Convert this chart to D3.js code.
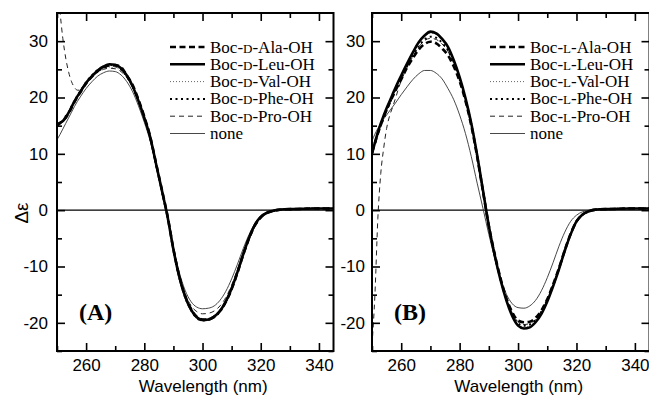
<!DOCTYPE html>
<html>
<head>
<meta charset="utf-8">
<script src="https://cdn.jsdelivr.net/npm/d3@7"></script>
<style>
  body { margin: 0; background: #fff; }
  svg { display: block; }
</style>
</head>
<body>
<div id="chart"></div>
<script>
var w = 649, h = 395;

// wavelength grid (nm)
var wl = [250,251,252,253,254,255,256,257,258,260,262,264,266,268,270,272,274,276,278,280,282,284,286,288,290,292,294,296,298,300,302,304,306,308,310,312,314,316,318,320,322,324,326,328,332,338,345];

// panel A (Boc-D-...)
var alaA = [15.0,15.4,16.0,16.4,17.2,18.2,19.2,20.1,20.9,22.5,23.7,24.7,25.3,25.7,25.7,25.4,23.9,22.2,19.6,16.6,13.1,8.4,3.7,-1.1,-6.9,-11.7,-15.2,-17.5,-18.9,-19.4,-19.4,-18.9,-17.9,-16.3,-14.0,-11.1,-7.9,-5.0,-2.7,-1.3,-0.5,-0.15,0.05,0.15,0.2,0.3,0.3];
var leuA = [15.2,15.5,15.8,16.5,17.3,18.3,19.3,20.2,21.0,22.6,23.8,24.8,25.5,25.9,25.8,25.2,23.9,22.0,19.4,16.4,13.0,8.3,3.6,-1.2,-7.0,-11.8,-15.3,-17.6,-19.0,-19.5,-19.4,-18.9,-17.9,-16.2,-13.9,-11.0,-7.8,-4.9,-2.6,-1.2,-0.5,-0.15,0.05,0.15,0.2,0.3,0.3];
var valA = [14.8,15.2,15.7,16.4,17.2,18.2,19.2,20.1,20.9,22.4,23.6,24.5,25.1,25.4,25.3,24.8,23.6,21.8,19.3,16.3,12.9,8.3,3.6,-1.2,-6.9,-11.6,-15.1,-17.4,-18.8,-19.3,-19.2,-18.7,-17.7,-16.1,-13.8,-10.9,-7.7,-4.9,-2.6,-1.2,-0.5,-0.15,0.05,0.15,0.2,0.3,0.3];
var pheA = [15.3,15.6,15.9,16.7,17.4,18.4,19.4,20.3,21.1,22.7,23.9,24.9,25.5,25.8,25.6,25.0,23.8,21.9,19.3,16.3,12.9,8.2,3.5,-1.3,-7.1,-11.9,-15.4,-17.7,-19.1,-19.6,-19.5,-19.0,-18.0,-16.3,-14.0,-11.1,-7.9,-5.0,-2.7,-1.3,-0.5,-0.15,0.05,0.15,0.2,0.3,0.3];
var proA = [42,35.5,30.5,27.0,24.5,22.8,21.8,21.3,21.3,22.4,23.6,24.5,25.0,25.2,25.1,24.6,23.5,21.7,19.2,16.2,12.8,8.2,3.5,-1.2,-6.8,-11.4,-14.8,-16.9,-18.0,-18.4,-18.3,-17.9,-17.0,-15.5,-13.3,-10.5,-7.4,-4.7,-2.5,-1.1,-0.45,-0.12,0.05,0.15,0.2,0.3,0.3];
var noneA = [12.5,13.4,14.4,15.4,16.4,17.4,18.4,19.3,20.1,21.6,22.8,23.8,24.4,24.7,24.6,24.0,22.8,21.0,18.5,15.6,12.3,8.0,3.5,-1.0,-6.5,-11.0,-14.2,-16.2,-17.2,-17.5,-17.4,-17.0,-16.0,-14.4,-12.2,-9.6,-6.8,-4.3,-2.3,-1.0,-0.4,-0.1,0.05,0.15,0.2,0.3,0.3];

// panel B (Boc-L-...)
var alaB = [10.2,11.9,13.6,15.1,16.5,17.8,19.0,20.1,21.2,23.2,25.3,27.0,28.5,29.5,29.9,29.6,28.7,27.5,25.5,22.9,19.4,15.0,9.5,3.3,-2.8,-7.8,-12.1,-15.6,-18.1,-19.6,-19.9,-19.8,-19.1,-17.8,-15.8,-13.2,-10.3,-7.1,-4.2,-2.0,-0.8,-0.25,0.05,0.15,0.2,0.3,0.3];
var leuB = [10.0,12.0,13.8,15.4,16.8,18.1,19.3,20.5,21.7,23.9,26.0,28.0,29.8,31.0,31.7,31.4,30.4,29.0,26.6,23.6,19.9,15.4,9.8,3.5,-2.8,-8.0,-12.4,-16.0,-18.8,-20.5,-21.0,-20.8,-19.9,-18.4,-16.2,-13.5,-10.5,-7.2,-4.3,-2.0,-0.8,-0.25,0.05,0.15,0.2,0.3,0.3];
var valB = [10.0,11.9,13.7,15.3,16.7,18.0,19.2,20.4,21.6,23.8,25.9,27.9,29.6,30.8,31.4,31.2,30.2,28.8,26.4,23.4,19.7,15.3,9.7,3.4,-2.8,-7.9,-12.3,-15.9,-18.6,-20.3,-20.7,-20.5,-19.7,-18.2,-16.0,-13.4,-10.4,-7.1,-4.3,-2.0,-0.8,-0.25,0.05,0.15,0.2,0.3,0.3];
var pheB = [10.1,11.8,13.5,15.0,16.4,17.7,18.9,20.1,21.3,23.5,25.6,27.5,29.1,30.3,30.8,30.6,29.7,28.4,26.1,23.2,19.6,15.2,9.6,3.4,-2.8,-7.9,-12.2,-15.8,-18.5,-20.1,-20.5,-20.3,-19.5,-18.0,-15.9,-13.3,-10.4,-7.1,-4.2,-2.0,-0.8,-0.25,0.05,0.15,0.2,0.3,0.3];
var proB = [-24,-15,-1.5,6.5,11.0,14.5,16.7,18.2,19.8,23.0,25.3,27.3,29.0,30.1,30.5,30.3,29.5,28.2,26.0,23.1,19.5,15.1,9.6,3.4,-2.7,-7.8,-12.1,-15.6,-18.2,-19.8,-20.3,-20.1,-19.4,-17.9,-15.8,-13.2,-10.3,-7.0,-4.2,-2.0,-0.8,-0.25,0.05,0.15,0.2,0.3,0.3];
var noneB = [12.3,13.5,14.5,15.4,16.2,16.9,17.6,18.3,19.0,20.5,21.9,23.2,24.2,24.8,24.8,24.3,23.3,21.6,19.6,16.9,13.6,9.5,4.8,0.3,-4.3,-8.5,-12.1,-14.9,-16.6,-17.3,-17.4,-17.0,-16.0,-14.3,-12.0,-9.3,-6.4,-3.9,-2.0,-0.9,-0.3,-0.05,0.1,0.15,0.2,0.3,0.3];

var aminoNames = ["Ala", "Leu", "Val", "Phe", "Pro"];
var xTicks = [260, 280, 300, 320, 340];
var xMinor = [250, 270, 290, 310, 330];
var yTicks = [-20, -10, 0, 10, 20, 30];
var yMinor = [-25, -15, -5, 5, 15, 25];

// line styles, same order as the legend
var styles = [
    { width: 2.6, dash: "6,3.5", color: "#000" },   // Ala
    { width: 2.6, dash: null, color: "#000" },      // Leu
    { width: 0.9, dash: "1,2", color: "#555" },     // Val
    { width: 2, dash: "2,3.5", color: "#000" },     // Phe
    { width: 1, dash: "5,4", color: "#222" },       // Pro
    { width: 0.9, dash: null, color: "#333" }       // none
];

var panels = [
    { id: "A", letter: "D", left: 57, right: 333.5, series: [alaA, leuA, valA, pheA, proA, noneA], legX: 170 },
    { id: "B", letter: "L", left: 372, right: 649.5, series: [alaB, leuB, valB, pheB, proB, noneB], legX: 490 }
];
var plotTop = 13, plotBottom = 351;

var svg = d3.select("#chart").append("svg")
    .attr("width", w)
    .attr("height", h);

var yScale = d3.scaleLinear().domain([-25, 35]).range([plotBottom, plotTop]);

panels.forEach(function (p, pi) {
    var xScale = d3.scaleLinear().domain([250, 345]).range([p.left, p.right]);
    var g = svg.append("g");

    svg.append("clipPath").attr("id", "clip" + p.id)
        .append("rect")
        .attr("x", p.left).attr("y", plotTop)
        .attr("width", p.right - p.left).attr("height", plotBottom - plotTop);

    // zero line
    g.append("line")
        .attr("x1", p.left).attr("x2", p.right)
        .attr("y1", yScale(0)).attr("y2", yScale(0))
        .attr("stroke", "#000").attr("stroke-width", 1.4);

    var line = d3.line()
        .x(function (d) { return xScale(d[0]); })
        .y(function (d) { return yScale(d[1]); })
        .curve(d3.curveMonotoneX);

    var curves = g.append("g").attr("clip-path", "url(#clip" + p.id + ")");
    // draw thin ones first, thick on top
    [5, 4, 2, 3, 0, 1].forEach(function (si) {
        var st = styles[si];
        var pts = wl.map(function (x, i) { return [x, p.series[si][i]]; });
        curves.append("path")
            .datum(pts)
            .attr("fill", "none")
            .attr("stroke", st.color)
            .attr("stroke-width", st.width)
            .attr("stroke-dasharray", st.dash)
            .attr("stroke-linejoin", "round")
            .attr("d", line);
    });

    // axes, ticks pointing inward
    var ax = g.append("g").attr("class", "axis");
    ax.append("g").attr("transform", "translate(0," + plotBottom + ")")
        .call(d3.axisBottom(xScale).tickValues(xTicks).tickSize(-8).tickSizeOuter(0).tickPadding(8));
    ax.append("g").attr("transform", "translate(0," + plotBottom + ")")
        .call(d3.axisBottom(xScale).tickValues(xMinor).tickSize(-5).tickSizeOuter(0).tickFormat(""));
    ax.append("g").attr("transform", "translate(0," + plotTop + ")")
        .call(d3.axisTop(xScale).tickValues(xTicks).tickSize(-8).tickSizeOuter(0).tickFormat(""));
    ax.append("g").attr("transform", "translate(0," + plotTop + ")")
        .call(d3.axisTop(xScale).tickValues(xMinor).tickSize(-5).tickSizeOuter(0).tickFormat(""));
    ax.append("g").attr("transform", "translate(" + p.left + ",0)")
        .call(d3.axisLeft(yScale).tickValues(yTicks).tickSize(-8).tickSizeOuter(0).tickPadding(pi === 0 ? 9 : 7)
            .tickFormat(function (d) { return String(d); }));
    ax.append("g").attr("transform", "translate(" + p.left + ",0)")
        .call(d3.axisLeft(yScale).tickValues(yMinor).tickSize(-5).tickSizeOuter(0).tickFormat(""));
    ax.append("g").attr("transform", "translate(" + p.right + ",0)")
        .call(d3.axisRight(yScale).tickValues(yTicks).tickSize(-8).tickSizeOuter(0).tickFormat(""));
    ax.append("g").attr("transform", "translate(" + p.right + ",0)")
        .call(d3.axisRight(yScale).tickValues(yMinor).tickSize(-5).tickSizeOuter(0).tickFormat(""));

    ax.selectAll(".domain").remove();
    ax.selectAll(".tick line").attr("stroke", "#000").attr("stroke-width", 1.6);
    ax.selectAll(".tick text")
        .attr("font-family", "'Liberation Sans', Arial, sans-serif")
        .attr("font-size", 17)
        .attr("fill", "#000");

    // frame
    g.append("rect")
        .attr("x", p.left).attr("y", plotTop)
        .attr("width", p.right - p.left).attr("height", plotBottom - plotTop)
        .attr("fill", "none").attr("stroke", "#000").attr("stroke-width", 2);

    // x label
    g.append("text")
        .attr("x", (p.left + p.right) / 2 + 8)
        .attr("y", 391.5)
        .attr("text-anchor", "middle")
        .attr("font-family", "'Liberation Sans', Arial, sans-serif")
        .attr("font-size", 17)
        .text("Wavelength (nm)");

    // panel letter
    g.append("text")
        .attr("x", p.left + 22)
        .attr("y", 320)
        .attr("font-family", "'Liberation Serif', 'Times New Roman', serif")
        .attr("font-weight", "bold")
        .attr("font-size", 24)
        .text("(" + p.id + ")");

    // legend
    var leg = g.append("g");
    var labels = aminoNames.concat(["none"]);
    labels.forEach(function (name, i) {
        var yy = 47 + i * 17.3;
        var st = styles[i];
        leg.append("line")
            .attr("x1", p.legX).attr("x2", p.legX + 35)
            .attr("y1", yy).attr("y2", yy)
            .attr("stroke", st.color)
            .attr("stroke-width", st.width)
            .attr("stroke-dasharray", st.dash);
        var t = leg.append("text")
            .attr("x", p.legX + 40)
            .attr("y", yy + 5.5)
            .attr("font-family", "'Liberation Serif', 'Times New Roman', serif")
            .attr("font-size", 17);
        if (name === "none") {
            t.text("none");
        } else {
            t.append("tspan").text("Boc-");
            t.append("tspan").attr("font-size", 13).text(p.letter);
            t.append("tspan").text("-" + name + "-OH");
        }
    });
});

// y label
svg.append("text")
    .attr("transform", "translate(28,213) rotate(-90)")
    .attr("text-anchor", "middle")
    .attr("font-family", "'Liberation Sans', Arial, sans-serif")
    .attr("font-size", 19)
    .text("Δε");
</script>
</body>
</html>
